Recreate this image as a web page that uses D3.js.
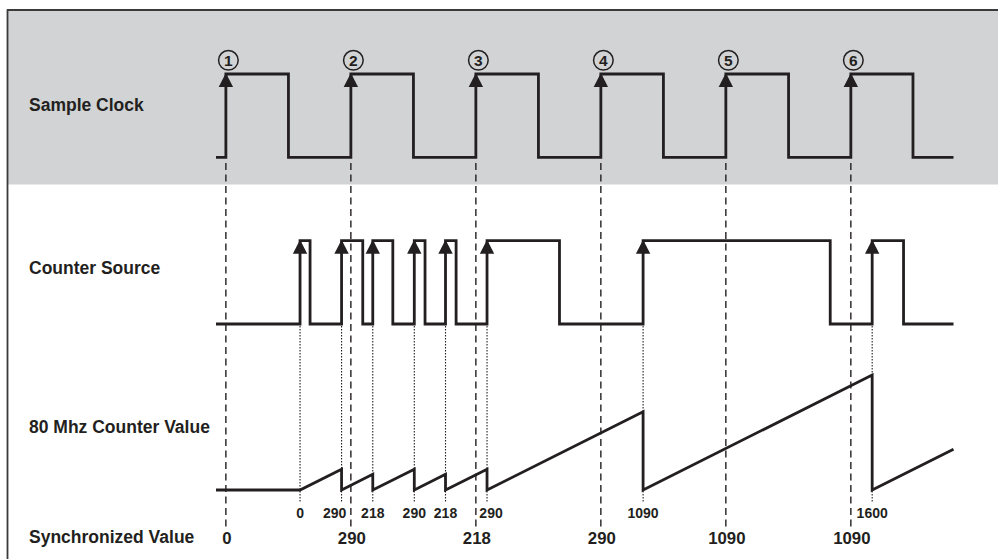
<!DOCTYPE html>
<html>
<head>
<meta charset="utf-8">
<script src="https://cdn.jsdelivr.net/npm/d3@7/dist/d3.min.js"></script>
<style>
  html, body { margin: 0; padding: 0; background: #ffffff; }
  svg { display: block; }
  text { font-family: "Liberation Sans", Arial, Helvetica, sans-serif; font-weight: bold; fill: #231f20; }
</style>
</head>
<body>
<svg id="chart" width="998" height="559"></svg>
<script>
// ---- DATA (time in 80 MHz counter ticks, 0 = first Counter Source rising edge) ----
const timeRange = [-587, 4564];
const rowLabels = ["Sample Clock", "Counter Source", "80 Mhz Counter Value", "Synchronized Value"];

const sampleClockRise = [-518, 355, 1228, 2101, 2974, 3847];
const sampleClockFall = [-81, 792, 1665, 2538, 3412, 4281];
const sampleNumbers = ["1", "2", "3", "4", "5", "6"];

const counterSourceRise = [0, 290, 508, 798, 1016, 1306, 2396, 3996];
const counterSourceFall = [70, 438, 648, 873, 1090, 1812, 3703, 4215];

// 80 MHz counter value (sawtooth), [time, count]
const counterValue = [
  [-587, 0], [0, 0],
  [290, 290], [290, 0],
  [508, 218], [508, 0],
  [798, 290], [798, 0],
  [1016, 218], [1016, 0],
  [1306, 290], [1306, 0],
  [2396, 1090], [2396, 0],
  [3996, 1600], [3996, 0],
  [4564, 568]
];

const latchedValues = ["0", "290", "218", "290", "218", "290", "1090", "1600"];
const synchronizedValues = ["0", "290", "218", "290", "1090", "1090"];
// small horizontal nudges of latched labels (px), to clear dashed lines
const latchedLabelShift = [0, -7, 0, 0, 0, 4, 0, 0];

// ---- LAYOUT ----
const svg = d3.select("#chart");
const ink = "#231f20";

const x = d3.scaleLinear().domain(timeRange).range([216, 953.5]);
const yClock = d3.scaleLinear().domain([0, 1]).range([157.3, 74]);
const ySource = d3.scaleLinear().domain([0, 1]).range([324, 240.7]);
const yCount = d3.scaleLinear().domain([0, 1600]).range([490, 375]);

// background band + frame
svg.append("rect").attr("x", 8).attr("y", 10).attr("width", 990).attr("height", 174.5).attr("fill", "#d1d3d4");
svg.append("line").attr("x1", 7.5).attr("x2", 7.5).attr("y1", 9.5).attr("y2", 559).attr("stroke", "#3a3a3a").attr("stroke-width", 1.8);
svg.append("line").attr("x1", 7).attr("x2", 998).attr("y1", 10).attr("y2", 10).attr("stroke", "#3a3a3a").attr("stroke-width", 1.8);

// build step-signal points from edges
function stepPoints(rises, falls) {
  const edges = [];
  rises.forEach(t => edges.push([t, 1]));
  falls.forEach(t => edges.push([t, 0]));
  edges.sort((a, b) => a[0] - b[0]);
  const pts = [[timeRange[0], 0]];
  edges.forEach(e => pts.push(e));
  pts.push([timeRange[1], edges[edges.length - 1][1]]);
  return pts;
}

// dashed lines at Sample Clock rising edges
svg.append("g").selectAll("line").data(sampleClockRise).join("line")
  .attr("x1", d => x(d)).attr("x2", d => x(d))
  .attr("y1", 163).attr("y2", 529)
  .attr("stroke", ink).attr("stroke-width", 1.4)
  .attr("stroke-dasharray", "7,4.5");

// dotted lines at Counter Source rising edges
svg.append("g").selectAll("line").data(counterSourceRise).join("line")
  .attr("x1", d => x(d)).attr("x2", d => x(d))
  .attr("y1", 326).attr("y2", 503)
  .attr("stroke", ink).attr("stroke-width", 1.1)
  .attr("stroke-dasharray", "1.5,1.5");

function drawSignal(pts, yScale) {
  const line = d3.line().x(d => x(d[0])).y(d => yScale(d[1])).curve(d3.curveStepAfter);
  svg.append("path").attr("d", line(pts))
    .attr("fill", "none").attr("stroke", ink).attr("stroke-width", 2.8)
    .attr("stroke-linejoin", "miter");
}
function drawArrows(rises, yScale) {
  svg.append("g").selectAll("path").data(rises).join("path")
    .attr("d", d => {
      const cx = x(d), top = yScale(1) - 1;
      return `M${cx},${top} L${cx + 7.2},${top + 14} L${cx - 7.2},${top + 14} Z`;
    })
    .attr("fill", ink);
}

drawSignal(stepPoints(sampleClockRise, sampleClockFall), yClock);
drawArrows(sampleClockRise, yClock);
drawSignal(stepPoints(counterSourceRise, counterSourceFall), ySource);
drawArrows(counterSourceRise, ySource);

// counter sawtooth
svg.append("path")
  .attr("d", d3.line().x(d => x(d[0])).y(d => yCount(d[1]))(counterValue))
  .attr("fill", "none").attr("stroke", ink).attr("stroke-width", 2.8)
  .attr("stroke-linejoin", "miter");

// circled numbers
const circ = svg.append("g").selectAll("g").data(sampleClockRise).join("g")
  .attr("transform", d => `translate(${x(d) + 2.5},60.3)`);
circ.append("circle").attr("r", 9.8).attr("fill", "none").attr("stroke", ink).attr("stroke-width", 1.5);
circ.append("text").attr("text-anchor", "middle").attr("y", 5.6).attr("font-size", 15.5)
  .text((d, i) => sampleNumbers[i]);

// latched value labels
svg.append("g").selectAll("text").data(counterSourceRise).join("text")
  .attr("x", (d, i) => x(d) + latchedLabelShift[i]).attr("y", 518)
  .attr("text-anchor", "middle").attr("font-size", 14)
  .text((d, i) => latchedValues[i]);

// synchronized value labels
svg.append("g").selectAll("text").data(sampleClockRise).join("text")
  .attr("x", d => x(d) + 1).attr("y", 544)
  .attr("text-anchor", "middle").attr("font-size", 16.8)
  .text((d, i) => synchronizedValues[i]);

// row labels
const rowBaselines = [111, 274, 433, 543];
svg.append("g").selectAll("text").data(rowLabels).join("text")
  .attr("x", 29).attr("y", (d, i) => rowBaselines[i])
  .attr("font-size", 17.5)
  .text(d => d);
</script>
</body>
</html>
